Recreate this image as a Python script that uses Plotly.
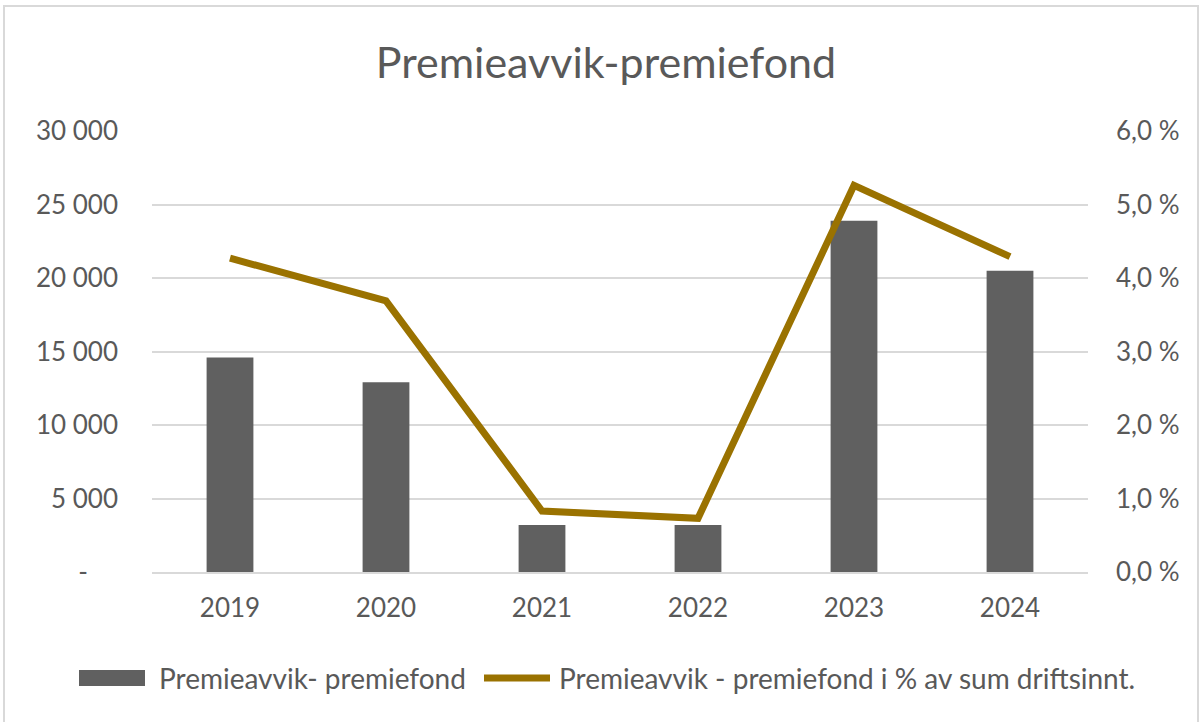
import plotly.graph_objects as go

# ---- data ----
years = ["2019", "2020", "2021", "2022", "2023", "2024"]
premieavvik = [14600, 12900, 3200, 3200, 23900, 20500]
pct_driftsinnt = [4.27, 3.69, 0.83, 0.73, 5.26, 4.29]

left_tickvals = [0, 5000, 10000, 15000, 20000, 25000, 30000]
left_ticktext = ["-\u2007\u2007", "5 000", "10 000", "15 000", "20 000", "25 000", "30 000"]

bar_name = "Premieavvik- premiefond"
line_name = "Premieavvik - premiefond i % av sum driftsinnt."
title_text = "Premieavvik-premiefond"

# ---- style ----
FONT = "Lato"
TXT = "#595959"
GRID = "#d9d9d9"
BAR_C = "#606060"
LINE_C = "#9a7200"

W, H = 1202, 722
L, R, T, B = 152, 114, 131, 150

fig = go.Figure()
fig.add_trace(go.Bar(
    x=years, y=premieavvik, name=bar_name,
    marker=dict(color=BAR_C, line=dict(width=0)),
    width=0.3, yaxis="y", showlegend=False,
))
fig.add_trace(go.Scatter(
    x=years, y=pct_driftsinnt, name=line_name, mode="lines",
    line=dict(color=LINE_C, width=7), yaxis="y2", showlegend=False,
))

pw = W - L - R
ph = H - T - B
def px_x(p):
    return (p - L) / pw
def px_y(p):
    return (H - B - p) / ph

# custom legend (swatches + labels), placed in pixel terms
legend_y = 678
shapes = [
    dict(type="rect", xref="paper", yref="paper",
         x0=px_x(4), x1=px_x(1198), y0=px_y(740), y1=px_y(6),
         line=dict(color=GRID, width=2), fillcolor="rgba(0,0,0,0)", layer="below"),
    dict(type="rect", xref="paper", yref="paper",
         x0=px_x(79), x1=px_x(145), y0=px_y(686), y1=px_y(670),
         line=dict(width=0), fillcolor=BAR_C),
    dict(type="line", xref="paper", yref="paper",
         x0=px_x(484), x1=px_x(550), y0=px_y(legend_y), y1=px_y(legend_y),
         line=dict(color=LINE_C, width=7)),
]
annotations = [
    dict(text=bar_name, xref="paper", yref="paper", x=px_x(157), y=px_y(legend_y),
         xanchor="left", yanchor="middle", showarrow=False,
         font=dict(family=FONT, size=28, color=TXT)),
    dict(text=line_name, xref="paper", yref="paper", x=px_x(557), y=px_y(legend_y),
         xanchor="left", yanchor="middle", showarrow=False,
         font=dict(family=FONT, size=28, color=TXT)),
]

fig.update_layout(
    width=W, height=H,
    margin=dict(l=L, r=R, t=T, b=B, pad=0),
    paper_bgcolor="white", plot_bgcolor="white",
    separators=", ",
    font=dict(family=FONT, color=TXT, size=26),
    title=dict(text=title_text, font=dict(family=FONT, size=43, color=TXT),
               xref="container", x=606 / W, xanchor="center",
               yref="container", y=1 - 63 / H, yanchor="middle"),
    showlegend=False,
    xaxis=dict(type="category", showgrid=False, zeroline=False,
               showline=True, linecolor=GRID, linewidth=2,
               ticks="", tickfont=dict(size=26, color=TXT), ticklabelstandoff=12),
    yaxis=dict(range=[0, 30000], tickvals=left_tickvals, ticktext=left_ticktext,
               showgrid=True, gridcolor=GRID, gridwidth=2, zeroline=False,
               showline=False, ticks="", tickfont=dict(size=26, color=TXT),
               ticklabelstandoff=33),
    yaxis2=dict(range=[0, 6], dtick=1, tick0=0, tickformat=".1f", ticksuffix=" %",
                overlaying="y", side="right", showgrid=False, zeroline=False,
                showline=False, ticks="", tickfont=dict(size=26, color=TXT),
                ticklabelstandoff=27),
    shapes=shapes,
    annotations=annotations,
)

fig.write_html("out.html", config={"displayModeBar": False},
               post_script="document.body.style.margin='0';")
